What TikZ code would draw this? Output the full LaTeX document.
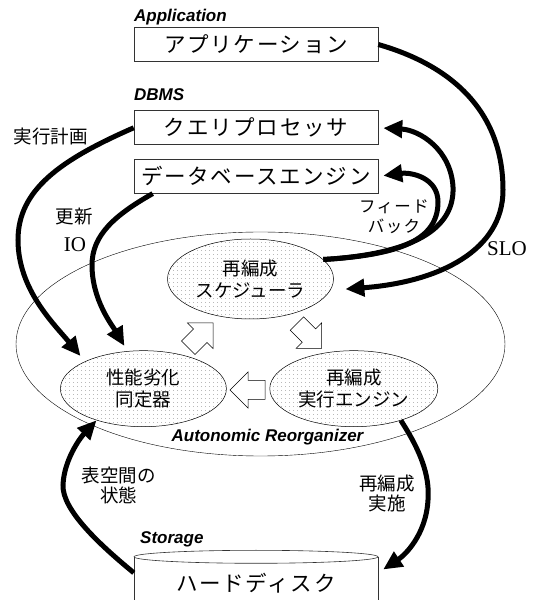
\documentclass[tikz,border=0pt]{standalone}
\usepackage{fontspec}
\setmainfont{Liberation Serif}
\newfontfamily\hvfont{Liberation Sans}
\newfontfamily\jpfont{Noto Sans CJK JP}
\newfontfamily\jpwide[LetterSpace=8]{Noto Sans CJK JP}
\usetikzlibrary{arrows.meta,shapes.geometric,patterns.meta}

\tikzdeclarepattern{
  name=fewdots,
  type=uncolored,
  bounding box={(0pt,0pt) and (4pt,4pt)},
  tile size={(4pt,4pt)},
  code={\fill (2pt,2pt) circle (0.45pt);}
}

\begin{document}
\begin{tikzpicture}[x=1pt,y=1pt,
    box/.style={draw=black!80,line width=0.6pt,minimum width=244pt,minimum height=34pt,
      inner sep=0pt,font=\jpwide\fontsize{21.5}{24}\selectfont},
    tier/.style={anchor=west,inner sep=0pt,font=\hvfont\bfseries\itshape\fontsize{17}{20}\selectfont},
    module/.style={ellipse,draw,line width=0.5pt,preaction={fill=white},pattern=fewdots,
      pattern color=black!55,minimum width=166pt,minimum height=76pt,inner sep=0pt,
      align=center,font=\jpfont\fontsize{18.5}{21.5}\selectfont},
    remark/.style={align=center,inner sep=0pt,font=\jpfont\fontsize{18.5}{20}\selectfont},
    flow/.style={line width=5pt,-{Triangle[length=19pt,width=17pt]}},
    pics/handover/.style={code={%
      \draw[line width=0.5pt,fill=white] (0,0) -- (-18,18) -- (-18,9.5) -- (-35,9.5)
        -- (-35,-9.5) -- (-18,-9.5) -- (-18,-18) -- cycle;}}
  ]
  \useasboundingbox (0,0) rectangle (536,600);%
  \clip (0,0) rectangle (536,600);%

  % DBMS and application layers
  \node[tier] (applabel) at (134,583) {Application};%
  \node[box] (app) at (256,555.5) {アプリケーション};%
  \node[tier] (dbmslabel) at (134,505) {DBMS};%
  \node[box] (qp) at (256,472.2) {クエリプロセッサ};%
  \node[box] (dbe) at (256,423.7) {データベースエンジン};%

  % reorganizer
  \node[draw,ellipse,line width=0.4pt,minimum width=489pt,minimum height=224pt] (reorg) at (260.5,256) {};%
  \node[tier,anchor=center] (reorglabel) at (267.5,163) {Autonomic Reorganizer};%
  \node[module,minimum height=80pt] (sched) at (250.5,321) {再編成\\スケジューラ};%
  \node[module] (perf) at (143.4,211.3) {性能劣化\\同定器};%
  \node[module,minimum width=168pt] (exec) at (353.8,211.3) {再編成\\実行エンジン};%

  \pic[rotate=45] at (213,277) {handover};%
  \pic[rotate=-45] at (321.7,251.7) {handover};%
  \pic[rotate=180] at (230,210) {handover};%

  % storage
  \node[tier] (storelabel) at (140,61) {Storage};%
  \node[inner sep=0pt,minimum width=244pt,minimum height=20pt,
    font=\jpwide\fontsize{21.5}{24}\selectfont] (disk) at (256,17) {ハードディスク};%
  \draw[draw=black!80,line width=0.6pt] ([yshift=16pt]disk.north) ellipse (122pt and 6.5pt);%
  \draw[draw=black!80,line width=0.6pt] ([yshift=16pt]disk.north west) -- ([yshift=-30pt]disk.south west);%
  \draw[draw=black!80,line width=0.6pt] ([yshift=16pt]disk.north east) -- ([yshift=-30pt]disk.south east);%

  % flows
  \draw[flow,shorten >=15pt] (app.east) .. controls (450,535) and (503,490) .. (503,410)
    .. controls (503,350) and (440,318) .. (sched.-8);%
  \node[font=\rmfamily\fontsize{21}{24}\selectfont] (slo) at (507,351.5) {SLO};%

  \draw[flow,shorten >=5pt] (sched.15) .. controls (400,345) and (455,365) .. (453,413)
    .. controls (451,450) and (420,470) .. (qp.east);%
  \draw[flow,shorten >=5pt] (sched.15) .. controls (400,345) and (438,360) .. (438,398)
    .. controls (438,422) and (412,428) .. (dbe.east);%
  \node[remark,font=\jpwide\fontsize{16.5}{20}\selectfont] (feedback) at (394,383.3) {フィード\\バック};%

  \draw[flow,shorten >=7pt] (qp.west) .. controls (60,440) and (18,410) .. (18,360)
    .. controls (18,310) and (55,275) .. (perf.155);%
  \node[remark] (plan) at (50.5,463.3) {実行計画};%

  \draw[flow,shorten >=6pt] ([xshift=19pt]dbe.south west) .. controls (115,385) and (92,365) .. (92,335)
    .. controls (92,300) and (112,275) .. (perf.113);%
  \node[remark] (update) at (74,383.3) {更新};%
  \node[font=\rmfamily\fontsize{21}{24}\selectfont] (io) at (75,355) {IO};%

  \draw[flow] (disk.north west) .. controls (100,55) and (62,90) .. (63,115)
    .. controls (64,140) and (80,162) .. (perf.214);%
  \node[remark] (state) at (118.7,115) {表空間の\\状態};%

  \draw[flow,shorten >=6pt] (exec.-34) .. controls (420,150) and (430,125) .. (428,100)
    .. controls (426,65) and (405,45) .. (disk.north east);%
  \node[remark] (apply) at (387,106.3) {再編成\\実施};%
\end{tikzpicture}
\end{document}
